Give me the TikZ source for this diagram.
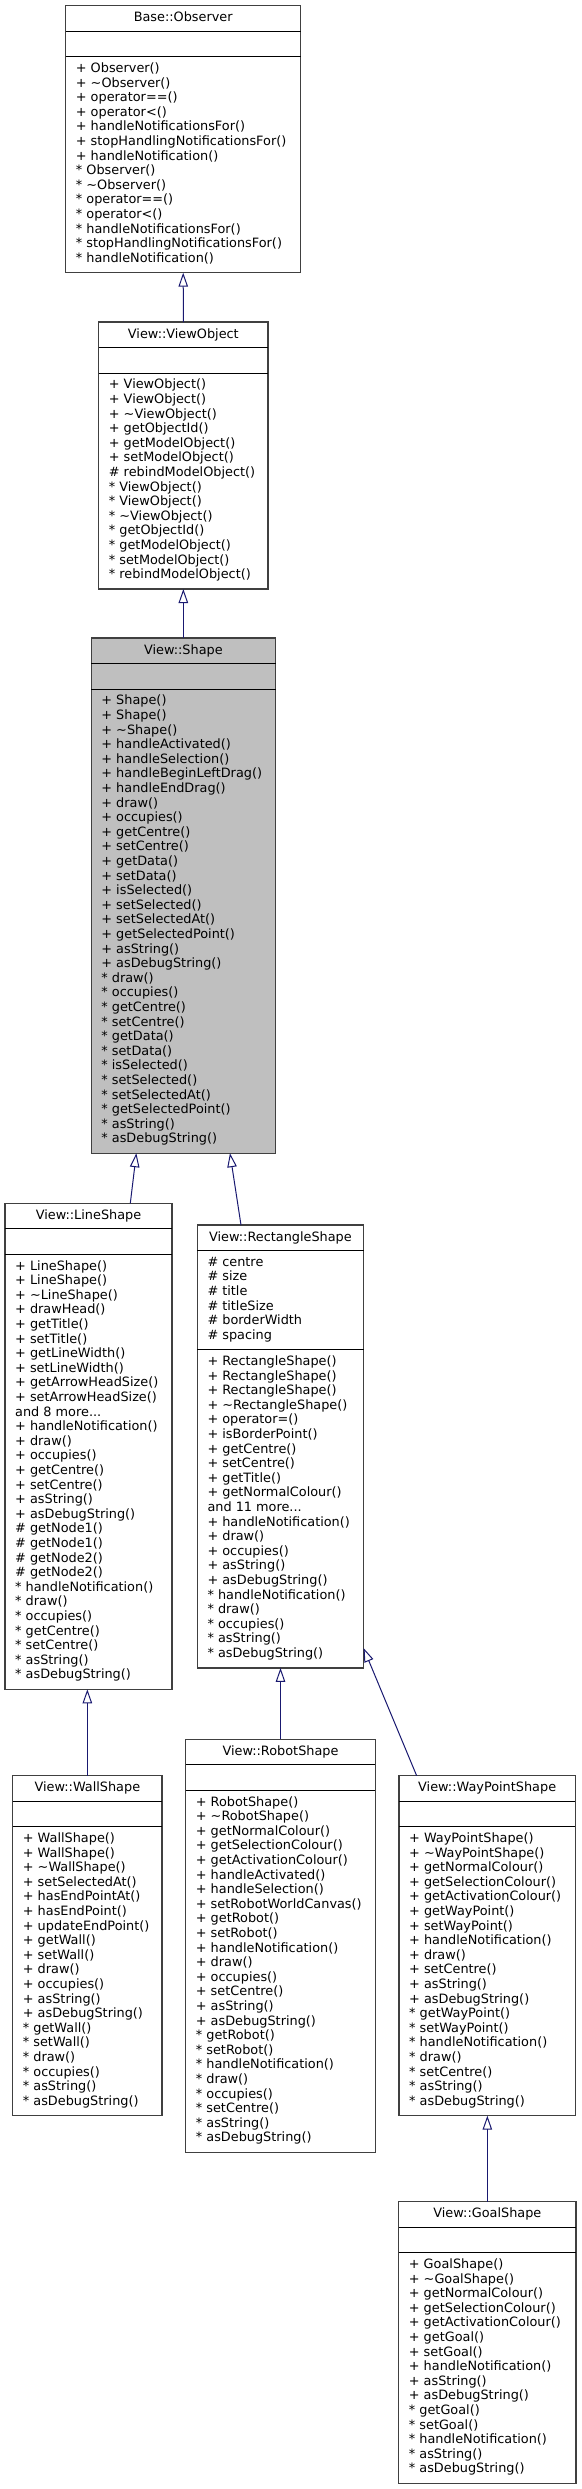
\documentclass[tikz,border=0pt]{standalone}
\usepackage{fontspec}
\setmainfont{DejaVu Sans}
\usetikzlibrary{arrows.meta}
\definecolor{midnight}{HTML}{191970}

\begin{document}
\begin{tikzpicture}[x=1pt,y=-1pt,font=\fontsize{12.85pt}{14.6pt}\selectfont,
  classbox/.style={draw=black!75,line width=1.2pt,fill=white,anchor=north west,inner sep=0pt,outer sep=0pt},
  classname/.style={anchor=base,inner sep=0pt},
  member/.style={anchor=base west,inner sep=0pt},
  divider/.style={draw=black,line width=1pt},
  inherit/.style={draw=midnight,line width=1pt,-{Triangle[open,length=14pt,width=9.5pt]}}]
  \useasboundingbox (0,0) rectangle (581,2489);
  % --- Base::Observer
  \begin{scope}[shift={(65.7,5.7)}]
    \node[classbox,minimum width=235pt,minimum height=267pt] (observer) at (0,0) {};
    \node[classname] at (117.5,16) {Base::Observer};
    \draw[divider] ([yshift=-25.5pt]observer.north west) -- ([yshift=-25.5pt]observer.north east);
    \draw[divider] ([yshift=-51pt]observer.north west) -- ([yshift=-51pt]observer.north east);
    \foreach \m [count=\i] in {+ Observer(),+ \textasciitilde Observer(),+ operator==(),+ operator<(),+ handleNotificationsFor(),+ stopHandlingNotificationsFor(),+ handleNotification(),* Observer(),* \textasciitilde Observer(),* operator==(),* operator<(),* handleNotificationsFor(),* stopHandlingNotificationsFor(),* handleNotification()}
      \node[member] at (10,{52.2+14.6*\i}) {\m};
  \end{scope}
  % --- View::ViewObject
  \begin{scope}[shift={(98.7,322)}]
    \node[classbox,minimum width=169.3pt,minimum height=267pt] (viewobject) at (0,0) {};
    \node[classname] at (84.65,16) {View::ViewObject};
    \draw[divider] ([yshift=-25.5pt]viewobject.north west) -- ([yshift=-25.5pt]viewobject.north east);
    \draw[divider] ([yshift=-51pt]viewobject.north west) -- ([yshift=-51pt]viewobject.north east);
    \foreach \m [count=\i] in {+ ViewObject(),+ ViewObject(),+ \textasciitilde ViewObject(),+ getObjectId(),+ getModelObject(),+ setModelObject(),\# rebindModelObject(),* ViewObject(),* ViewObject(),* \textasciitilde ViewObject(),* getObjectId(),* getModelObject(),* setModelObject(),* rebindModelObject()}
      \node[member] at (10,{52.2+14.6*\i}) {\m};
  \end{scope}
  % --- View::Shape
  \begin{scope}[shift={(91.2,638)}]
    \node[classbox,fill=black!25,minimum width=184.3pt,minimum height=515.2pt] (shape) at (0,0) {};
    \node[classname] at (92.15,16) {View::Shape};
    \draw[divider] ([yshift=-25.5pt]shape.north west) -- ([yshift=-25.5pt]shape.north east);
    \draw[divider] ([yshift=-51pt]shape.north west) -- ([yshift=-51pt]shape.north east);
    \foreach \m [count=\i] in {+ Shape(),+ Shape(),+ \textasciitilde Shape(),+ handleActivated(),+ handleSelection(),+ handleBeginLeftDrag(),+ handleEndDrag(),+ draw(),+ occupies(),+ getCentre(),+ setCentre(),+ getData(),+ setData(),+ isSelected(),+ setSelected(),+ setSelectedAt(),+ getSelectedPoint(),+ asString(),+ asDebugString(),* draw(),* occupies(),* getCentre(),* setCentre(),* getData(),* setData(),* isSelected(),* setSelected(),* setSelectedAt(),* getSelectedPoint(),* asString(),* asDebugString()}
      \node[member] at (10,{52.2+14.6*\i}) {\m};
  \end{scope}
  % --- View::LineShape
  \begin{scope}[shift={(5,1203.3)}]
    \node[classbox,minimum width=167pt,minimum height=486pt] (lineshape) at (0,0) {};
    \node[classname] at (83.5,16) {View::LineShape};
    \draw[divider] ([yshift=-25.5pt]lineshape.north west) -- ([yshift=-25.5pt]lineshape.north east);
    \draw[divider] ([yshift=-51pt]lineshape.north west) -- ([yshift=-51pt]lineshape.north east);
    \foreach \m [count=\i] in {+ LineShape(),+ LineShape(),+ \textasciitilde LineShape(),+ drawHead(),+ getTitle(),+ setTitle(),+ getLineWidth(),+ setLineWidth(),+ getArrowHeadSize(),+ setArrowHeadSize(),and 8 more.{}.{}.,+ handleNotification(),+ draw(),+ occupies(),+ getCentre(),+ setCentre(),+ asString(),+ asDebugString(),\# getNode1(),\# getNode1(),\# getNode2(),\# getNode2(),* handleNotification(),* draw(),* occupies(),* getCentre(),* setCentre(),* asString(),* asDebugString()}
      \node[member] at (10,{52.2+14.6*\i}) {\m};
  \end{scope}
  % --- View::RectangleShape
  \begin{scope}[shift={(197.3,1225)}]
    \node[classbox,minimum width=166.2pt,minimum height=442.9pt] (rectangleshape) at (0,0) {};
    \node[classname] at (83.1,16) {View::RectangleShape};
    \draw[divider] ([yshift=-25.5pt]rectangleshape.north west) -- ([yshift=-25.5pt]rectangleshape.north east);
    \draw[divider] ([yshift=-124.7pt]rectangleshape.north west) -- ([yshift=-124.7pt]rectangleshape.north east);
    \foreach \m [count=\i] in {\# centre,\# size,\# title,\# titleSize,\# borderWidth,\# spacing}
      \node[member] at (10,{26.7+14.6*\i}) {\m};
    \foreach \m [count=\i] in {+ RectangleShape(),+ RectangleShape(),+ RectangleShape(),+ \textasciitilde RectangleShape(),+ operator=(),+ isBorderPoint(),+ getCentre(),+ setCentre(),+ getTitle(),+ getNormalColour(),and 11 more.{}.{}.,+ handleNotification(),+ draw(),+ occupies(),+ asString(),+ asDebugString(),* handleNotification(),* draw(),* occupies(),* asString(),* asDebugString()}
      \node[member] at (10,{125.9+14.6*\i}) {\m};
  \end{scope}
  % --- View::WallShape
  \begin{scope}[shift={(12.7,1775.7)}]
    \node[classbox,minimum width=149.3pt,minimum height=340pt] (wallshape) at (0,0) {};
    \node[classname] at (74.65,16) {View::WallShape};
    \draw[divider] ([yshift=-25.5pt]wallshape.north west) -- ([yshift=-25.5pt]wallshape.north east);
    \draw[divider] ([yshift=-51pt]wallshape.north west) -- ([yshift=-51pt]wallshape.north east);
    \foreach \m [count=\i] in {+ WallShape(),+ WallShape(),+ \textasciitilde WallShape(),+ setSelectedAt(),+ hasEndPointAt(),+ hasEndPoint(),+ updateEndPoint(),+ getWall(),+ setWall(),+ draw(),+ occupies(),+ asString(),+ asDebugString(),* getWall(),* setWall(),* draw(),* occupies(),* asString(),* asDebugString()}
      \node[member] at (10,{52.2+14.6*\i}) {\m};
  \end{scope}
  % --- View::RobotShape
  \begin{scope}[shift={(185.7,1739.3)}]
    \node[classbox,minimum width=189.6pt,minimum height=413pt] (robotshape) at (0,0) {};
    \node[classname] at (94.8,16) {View::RobotShape};
    \draw[divider] ([yshift=-25.5pt]robotshape.north west) -- ([yshift=-25.5pt]robotshape.north east);
    \draw[divider] ([yshift=-51pt]robotshape.north west) -- ([yshift=-51pt]robotshape.north east);
    \foreach \m [count=\i] in {+ RobotShape(),+ \textasciitilde RobotShape(),+ getNormalColour(),+ getSelectionColour(),+ getActivationColour(),+ handleActivated(),+ handleSelection(),+ setRobotWorldCanvas(),+ getRobot(),+ setRobot(),+ handleNotification(),+ draw(),+ occupies(),+ setCentre(),+ asString(),+ asDebugString(),* getRobot(),* setRobot(),* handleNotification(),* draw(),* occupies(),* setCentre(),* asString(),* asDebugString()}
      \node[member] at (10,{52.2+14.6*\i}) {\m};
  \end{scope}
  % --- View::WayPointShape
  \begin{scope}[shift={(399,1775.7)}]
    \node[classbox,minimum width=176.3pt,minimum height=340pt] (waypointshape) at (0,0) {};
    \node[classname] at (88.15,16) {View::WayPointShape};
    \draw[divider] ([yshift=-25.5pt]waypointshape.north west) -- ([yshift=-25.5pt]waypointshape.north east);
    \draw[divider] ([yshift=-51pt]waypointshape.north west) -- ([yshift=-51pt]waypointshape.north east);
    \foreach \m [count=\i] in {+ WayPointShape(),+ \textasciitilde WayPointShape(),+ getNormalColour(),+ getSelectionColour(),+ getActivationColour(),+ getWayPoint(),+ setWayPoint(),+ handleNotification(),+ draw(),+ setCentre(),+ asString(),+ asDebugString(),* getWayPoint(),* setWayPoint(),* handleNotification(),* draw(),* setCentre(),* asString(),* asDebugString()}
      \node[member] at (10,{52.2+14.6*\i}) {\m};
  \end{scope}
  % --- View::GoalShape
  \begin{scope}[shift={(398.7,2201.7)}]
    \node[classbox,minimum width=177.3pt,minimum height=281.6pt] (goalshape) at (0,0) {};
    \node[classname] at (88.65,16) {View::GoalShape};
    \draw[divider] ([yshift=-25.5pt]goalshape.north west) -- ([yshift=-25.5pt]goalshape.north east);
    \draw[divider] ([yshift=-51pt]goalshape.north west) -- ([yshift=-51pt]goalshape.north east);
    \foreach \m [count=\i] in {+ GoalShape(),+ \textasciitilde GoalShape(),+ getNormalColour(),+ getSelectionColour(),+ getActivationColour(),+ getGoal(),+ setGoal(),+ handleNotification(),+ asString(),+ asDebugString(),* getGoal(),* setGoal(),* handleNotification(),* asString(),* asDebugString()}
      \node[member] at (10,{52.2+14.6*\i}) {\m};
  \end{scope}
  % --- inheritance
  \draw[inherit] (viewobject.north) -- (observer.south);
  \draw[inherit] (shape.north) -- (viewobject.south);
  \draw[inherit] ([xshift=41.8pt]lineshape.north) -- ([xshift=-47pt]shape.south);
  \draw[inherit] ([xshift=-39.4pt]rectangleshape.north) -- ([xshift=46.6pt]shape.south);
  \draw[inherit] (wallshape.north) -- (wallshape.north |- lineshape.south);
  \draw[inherit] (robotshape.north) -- (robotshape.north |- rectangleshape.south);
  \draw[inherit] ([xshift=-70.5pt]waypointshape.north) -- ([yshift=19.9pt]rectangleshape.south east);
  \draw[inherit] (goalshape.north) -- (goalshape.north |- waypointshape.south);
\end{tikzpicture}
\end{document}
